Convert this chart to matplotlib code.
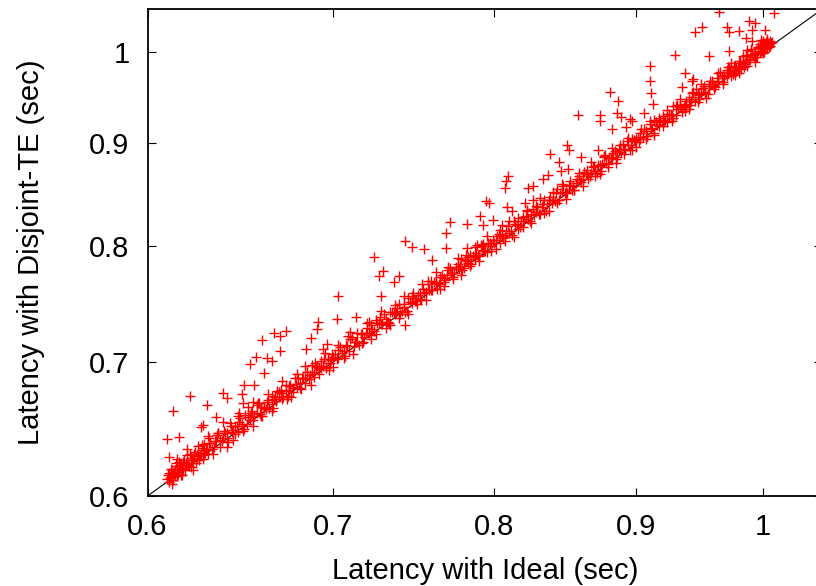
import numpy as np
import matplotlib
matplotlib.use('Agg')
import matplotlib.pyplot as plt
from matplotlib import ticker

plt.rcParams['font.family'] = ['Liberation Sans', 'DejaVu Sans']

# dense band of points along the diagonal (latency ideal vs disjoint-TE)
band_x = [
    0.610, 0.611, 0.611, 0.612, 0.612, 0.613, 0.613, 0.614, 0.614, 0.615, 0.615, 0.616, 0.616, 0.617, 0.617, 0.618,
    0.618, 0.619, 0.620, 0.620, 0.621, 0.622, 0.622, 0.623, 0.624, 0.625, 0.625, 0.626, 0.627, 0.628, 0.629, 0.629,
    0.630, 0.631, 0.632, 0.634, 0.635, 0.636, 0.637, 0.639, 0.640, 0.641, 0.643, 0.644, 0.645, 0.646, 0.648, 0.649,
    0.650, 0.652, 0.653, 0.654, 0.655, 0.657, 0.658, 0.659, 0.661, 0.662, 0.663, 0.665, 0.666, 0.667, 0.669, 0.670,
    0.671, 0.673, 0.674, 0.675, 0.677, 0.678, 0.679, 0.681, 0.682, 0.684, 0.685, 0.686, 0.688, 0.689, 0.690, 0.692,
    0.693, 0.694, 0.696, 0.697, 0.698,
    0.700, 0.702, 0.703, 0.705, 0.707, 0.708, 0.710, 0.712, 0.713, 0.715, 0.717, 0.718, 0.720, 0.722, 0.723, 0.725,
    0.727, 0.728, 0.730, 0.732, 0.733, 0.735, 0.737, 0.738, 0.740, 0.742, 0.743, 0.745, 0.747, 0.748, 0.750, 0.752,
    0.753, 0.755, 0.757, 0.758, 0.760, 0.762, 0.763, 0.765, 0.767, 0.768, 0.770, 0.772, 0.773, 0.775, 0.777, 0.778,
    0.780, 0.782, 0.783, 0.785, 0.787, 0.788, 0.790, 0.792, 0.793, 0.795, 0.797, 0.798,
    0.800, 0.802, 0.804, 0.805, 0.807, 0.809, 0.810, 0.812, 0.814, 0.815, 0.817, 0.819, 0.820, 0.822, 0.824, 0.825,
    0.827, 0.829, 0.830, 0.832, 0.834, 0.835, 0.837, 0.839, 0.840, 0.842, 0.844, 0.845, 0.847, 0.849, 0.850, 0.852,
    0.854, 0.855, 0.857, 0.859, 0.860, 0.862, 0.864, 0.865, 0.867, 0.869, 0.870, 0.872, 0.874, 0.875, 0.877, 0.879,
    0.880, 0.882, 0.884, 0.885, 0.887, 0.889, 0.890, 0.892, 0.894, 0.895, 0.897, 0.899,
    0.900, 0.902, 0.903, 0.905, 0.907, 0.908, 0.910, 0.912, 0.913, 0.915, 0.917, 0.918, 0.920, 0.922, 0.923, 0.925,
    0.927, 0.928, 0.930, 0.932, 0.933, 0.935, 0.937, 0.938, 0.940, 0.942, 0.943, 0.945, 0.947, 0.948, 0.950, 0.952,
    0.953, 0.955, 0.957, 0.958, 0.960, 0.962, 0.963, 0.965, 0.967, 0.968, 0.970, 0.972, 0.973, 0.975, 0.977, 0.978,
    0.980, 0.982, 0.983, 0.985, 0.987, 0.988, 0.990, 0.992, 0.993, 0.995, 0.997, 0.998,
    0.971, 0.974, 0.976, 0.979, 0.981, 0.984, 0.986, 0.989, 0.991, 0.994, 0.996, 0.999, 1.000, 1.001, 1.002, 1.003,
    1.004, 1.005, 1.006, 1.007, 1.003, 1.001, 0.999,
]
band_y = [
    0.612, 0.610, 0.616, 0.613, 0.619, 0.611, 0.616, 0.618, 0.614, 0.621, 0.614, 0.618, 0.624, 0.615, 0.621, 0.619,
    0.624, 0.618, 0.623, 0.629, 0.621, 0.627, 0.620, 0.625, 0.631, 0.626, 0.629, 0.625, 0.630, 0.634, 0.629, 0.637,
    0.633, 0.630, 0.638, 0.635, 0.639, 0.645, 0.635, 0.641, 0.645, 0.641, 0.650, 0.647, 0.644, 0.650, 0.656, 0.650,
    0.648, 0.657, 0.655, 0.660, 0.655, 0.660, 0.668, 0.658, 0.665, 0.663, 0.670, 0.667, 0.664, 0.672, 0.672, 0.678,
    0.671, 0.677, 0.673, 0.681, 0.679, 0.687, 0.680, 0.679, 0.687, 0.687, 0.692, 0.686, 0.692, 0.688, 0.696, 0.694,
    0.701, 0.697, 0.696, 0.702, 0.699,
    0.704, 0.702, 0.710, 0.707, 0.705, 0.713, 0.719, 0.713, 0.716, 0.714, 0.723, 0.720, 0.728, 0.722, 0.727, 0.723,
    0.732, 0.731, 0.740, 0.733, 0.732, 0.741, 0.740, 0.745, 0.740, 0.746, 0.741, 0.753, 0.749, 0.753, 0.751, 0.758,
    0.752, 0.758, 0.766, 0.760, 0.760, 0.767, 0.761, 0.772, 0.771, 0.769, 0.778, 0.775, 0.772, 0.781, 0.779, 0.788,
    0.780, 0.786, 0.790, 0.783, 0.790, 0.793, 0.791, 0.800, 0.795, 0.794, 0.803, 0.802,
    0.803, 0.809, 0.803, 0.810, 0.808, 0.818, 0.812, 0.810, 0.820, 0.819, 0.817, 0.827, 0.823, 0.833, 0.823, 0.830,
    0.829, 0.836, 0.830, 0.836, 0.843, 0.833, 0.843, 0.840, 0.843, 0.850, 0.843, 0.850, 0.857, 0.851, 0.850, 0.858,
    0.857, 0.853, 0.864, 0.863, 0.861, 0.871, 0.869, 0.864, 0.870, 0.877, 0.872, 0.878, 0.872, 0.879, 0.888, 0.879,
    0.885, 0.885, 0.892, 0.884, 0.893, 0.891, 0.899, 0.893, 0.898, 0.893, 0.904, 0.902,
    0.904, 0.901, 0.911, 0.907, 0.913, 0.908, 0.920, 0.915, 0.911, 0.922, 0.918, 0.923, 0.929, 0.924, 0.922, 0.931,
    0.930, 0.940, 0.930, 0.936, 0.941, 0.933, 0.942, 0.939, 0.947, 0.945, 0.954, 0.945, 0.953, 0.947, 0.954, 0.961,
    0.955, 0.953, 0.964, 0.963, 0.961, 0.970, 0.966, 0.977, 0.966, 0.974, 0.972, 0.982, 0.977, 0.975, 0.984, 0.981,
    0.989, 0.980, 0.988, 0.986, 0.995, 0.992, 1.001, 0.994, 0.999, 0.994, 1.000, 1.005,
    0.976, 0.973, 0.984, 0.981, 0.987, 0.982, 0.995, 0.992, 0.996, 0.994, 1.004, 1.001, 1.004, 1.000, 1.009, 1.004,
    1.009, 1.008, 1.006, 1.011, 1.012, 1.007, 1.009,
]

# second pass over the band, filling in between
band2_x = [
    0.6105, 0.6115, 0.6125, 0.6135, 0.6145, 0.6155, 0.6165, 0.6175, 0.6185, 0.6195, 0.6205, 0.6215, 0.6225, 0.6235,
    0.6245, 0.6255, 0.6265, 0.6275, 0.6285, 0.6295,
    0.6305, 0.6315, 0.6330, 0.6345, 0.6355, 0.6370, 0.6385, 0.6395, 0.6410, 0.6425, 0.6435, 0.6450, 0.6465, 0.6475,
    0.6490, 0.6505, 0.6515, 0.6530, 0.6545, 0.6555, 0.6570, 0.6585, 0.6595, 0.6610, 0.6625, 0.6635, 0.6650, 0.6665,
    0.6675, 0.6690, 0.6705, 0.6715, 0.6730, 0.6745, 0.6755, 0.6770, 0.6785, 0.6795, 0.6810, 0.6825, 0.6835, 0.6850,
    0.6865, 0.6875, 0.6890, 0.6905, 0.6915, 0.6930, 0.6945, 0.6955, 0.6970, 0.6985, 0.6995,
    0.7010, 0.7025, 0.7040, 0.7060, 0.7075, 0.7090, 0.7110, 0.7125, 0.7140, 0.7160, 0.7175, 0.7190, 0.7210, 0.7225,
    0.7240, 0.7260, 0.7275, 0.7290, 0.7310, 0.7325, 0.7340, 0.7360, 0.7375, 0.7390, 0.7410, 0.7425, 0.7440, 0.7460,
    0.7475, 0.7490, 0.7510, 0.7525, 0.7540, 0.7560, 0.7575, 0.7590, 0.7610, 0.7625, 0.7640, 0.7660, 0.7675, 0.7690,
    0.7710, 0.7725, 0.7740, 0.7760, 0.7775, 0.7790, 0.7810, 0.7825, 0.7840, 0.7860, 0.7875, 0.7890, 0.7910, 0.7925,
    0.7940, 0.7960, 0.7975, 0.7990,
    0.8010, 0.8030, 0.8060, 0.8080, 0.8110, 0.8130, 0.8160, 0.8180, 0.8210, 0.8230, 0.8260, 0.8280, 0.8310, 0.8330,
    0.8360, 0.8380, 0.8410, 0.8430, 0.8460, 0.8480, 0.8510, 0.8530, 0.8560, 0.8580, 0.8610, 0.8630, 0.8660, 0.8680,
    0.8710, 0.8730, 0.8760, 0.8780, 0.8810, 0.8830, 0.8860, 0.8880, 0.8910, 0.8930, 0.8960, 0.8980,
    0.9010, 0.9030, 0.9060, 0.9080, 0.9110, 0.9130, 0.9160, 0.9180, 0.9210, 0.9230, 0.9260, 0.9280, 0.9310, 0.9330,
    0.9360, 0.9380, 0.9410, 0.9430, 0.9460, 0.9480, 0.9510, 0.9530, 0.9560, 0.9580, 0.9610, 0.9630, 0.9660, 0.9680,
    0.9710, 0.9730, 0.9760, 0.9780, 0.9810, 0.9830, 0.9860, 0.9880, 0.9910, 0.9930, 0.9960, 0.9980,
    1.0005, 1.0015, 1.0025, 1.0035, 1.0045, 1.0055, 1.0065, 0.9975, 0.9985, 0.9995,
]
band2_y = [
    0.6145, 0.6125, 0.6185, 0.6165, 0.6235, 0.6155, 0.6215, 0.6195, 0.6255, 0.6235, 0.6215, 0.6295, 0.6255, 0.6295,
    0.6235, 0.6305, 0.6285, 0.6365, 0.6325, 0.6305,
    0.6325, 0.6375, 0.6330, 0.6395, 0.6435, 0.6400, 0.6395, 0.6465, 0.6450, 0.6525, 0.6455, 0.6500, 0.6455, 0.6535,
    0.6520, 0.6585, 0.6515, 0.6570, 0.6615, 0.6575, 0.6660, 0.6595, 0.6645, 0.6640, 0.6685, 0.6635, 0.6730, 0.6705,
    0.6695, 0.6760, 0.6755, 0.6725, 0.6820, 0.6775, 0.6815, 0.6760, 0.6825, 0.6875, 0.6830, 0.6875, 0.6835, 0.6920,
    0.6895, 0.6975, 0.6900, 0.6965, 0.6955, 0.6950, 0.7025, 0.6955, 0.7020, 0.7015, 0.7065,
    0.7060, 0.7035, 0.7120, 0.7090, 0.7135, 0.7090, 0.7200, 0.7165, 0.7160, 0.7230, 0.7165, 0.7240, 0.7240, 0.7305,
    0.7250, 0.7320, 0.7375, 0.7310, 0.7350, 0.7325, 0.7410, 0.7410, 0.7405, 0.7480, 0.7420, 0.7485, 0.7420, 0.7500,
    0.7555, 0.7510, 0.7560, 0.7525, 0.7610, 0.7590, 0.7685, 0.7600, 0.7670, 0.7665, 0.7660, 0.7740, 0.7675, 0.7740,
    0.7800, 0.7755, 0.7750, 0.7830, 0.7815, 0.7780, 0.7870, 0.7845, 0.7920, 0.7910, 0.7875, 0.7920, 0.8010, 0.7965,
    0.7950, 0.8030, 0.7995, 0.8050,
    0.8050, 0.8110, 0.8070, 0.8140, 0.8140, 0.8230, 0.8160, 0.8230, 0.8280, 0.8250, 0.8350, 0.8320, 0.8300, 0.8390,
    0.8390, 0.8460, 0.8420, 0.8540, 0.8510, 0.8500, 0.8580, 0.8530, 0.8600, 0.8670, 0.8640, 0.8690, 0.8670, 0.8760,
    0.8700, 0.8780, 0.8860, 0.8800, 0.8850, 0.8900, 0.8860, 0.8940, 0.8940, 0.9020, 0.8980, 0.9030,
    0.9070, 0.9050, 0.9150, 0.9080, 0.9160, 0.9240, 0.9190, 0.9250, 0.9220, 0.9310, 0.9300, 0.9270, 0.9410, 0.9380,
    0.9380, 0.9450, 0.9410, 0.9490, 0.9580, 0.9510, 0.9590, 0.9540, 0.9610, 0.9670, 0.9600, 0.9670, 0.9730, 0.9700,
    0.9820, 0.9790, 0.9790, 0.9780, 0.9890, 0.9880, 0.9960, 0.9900, 0.9970, 0.9970, 1.0050, 1.0010,
    1.0065, 1.0035, 1.0115, 1.0085, 1.0055, 1.0125, 1.0095, 1.0085, 1.0065, 1.0125,
]

# points along the upper and lower edge of the band
band3_x = [
    0.6125, 0.6150, 0.6175, 0.6200, 0.6230, 0.6255, 0.6280, 0.6310, 0.6335, 0.6360, 0.6390, 0.6415, 0.6440, 0.6470,
    0.6495, 0.6520, 0.6550, 0.6575, 0.6600, 0.6630, 0.6655, 0.6680, 0.6710, 0.6735, 0.6760, 0.6790, 0.6815, 0.6840,
    0.6870, 0.6895, 0.6920, 0.6950, 0.6975,
    0.7000, 0.7030, 0.7060, 0.7085, 0.7115, 0.7140, 0.7170, 0.7200, 0.7225, 0.7255, 0.7280, 0.7310, 0.7340, 0.7365,
    0.7395, 0.7420, 0.7450, 0.7480, 0.7505, 0.7535, 0.7560, 0.7590, 0.7620, 0.7645, 0.7675, 0.7700, 0.7730, 0.7760,
    0.7785, 0.7815, 0.7840, 0.7870, 0.7900, 0.7925, 0.7955, 0.7980,
    0.8010, 0.8040, 0.8070, 0.8100, 0.8130, 0.8160, 0.8190, 0.8220, 0.8250, 0.8280, 0.8310, 0.8340, 0.8370, 0.8400,
    0.8430, 0.8460, 0.8490, 0.8520, 0.8550, 0.8580, 0.8610, 0.8640, 0.8670, 0.8700, 0.8730, 0.8760, 0.8790, 0.8820,
    0.8850, 0.8880, 0.8910, 0.8940, 0.8970,
    0.9000, 0.9035, 0.9070, 0.9100, 0.9135, 0.9170, 0.9200, 0.9235, 0.9270, 0.9300, 0.9335, 0.9370, 0.9400, 0.9435,
    0.9470, 0.9500, 0.9535, 0.9570, 0.9600, 0.9635, 0.9670, 0.9700, 0.9735, 0.9770, 0.9800, 0.9835, 0.9870, 0.9900,
    0.9935, 0.9970, 1.0000, 1.0030,
]
band3_y = [
    0.6085, 0.6260, 0.6145, 0.6330, 0.6180, 0.6355, 0.6260, 0.6430, 0.6295, 0.6450, 0.6530, 0.6385, 0.6400, 0.6580,
    0.6465, 0.6650, 0.6500, 0.6675, 0.6580, 0.6750, 0.6615, 0.6770, 0.6850, 0.6705, 0.6720, 0.6900, 0.6785, 0.6970,
    0.6820, 0.6995, 0.6900, 0.7070, 0.6935,
    0.6960, 0.7140, 0.7030, 0.7215, 0.7065, 0.7240, 0.7150, 0.7320, 0.7185, 0.7345, 0.7420, 0.7280, 0.7300, 0.7475,
    0.7365, 0.7550, 0.7400, 0.7580, 0.7485, 0.7655, 0.7520, 0.7680, 0.7760, 0.7615, 0.7635, 0.7810, 0.7700, 0.7890,
    0.7735, 0.7915, 0.7820, 0.7990, 0.7860, 0.8015, 0.8095, 0.7950,
    0.7970, 0.8150, 0.8040, 0.8230, 0.8080, 0.8260, 0.8170, 0.8340, 0.8210, 0.8370, 0.8450, 0.8310, 0.8330, 0.8510,
    0.8400, 0.8590, 0.8440, 0.8620, 0.8530, 0.8700, 0.8570, 0.8730, 0.8810, 0.8670, 0.8690, 0.8870, 0.8760, 0.8950,
    0.8800, 0.8980, 0.8890, 0.9060, 0.8930,
    0.8960, 0.9145, 0.9040, 0.9230, 0.9085, 0.9270, 0.9180, 0.9355, 0.9230, 0.9390, 0.9475, 0.9340, 0.9360, 0.9545,
    0.9440, 0.9630, 0.9485, 0.9670, 0.9580, 0.9755, 0.9630, 0.9790, 0.9875, 0.9740, 0.9760, 0.9945, 0.9840, 1.0030,
    0.9885, 1.0070, 0.9980, 1.0150,
]

# scattered points above the band
out_x = [
    0.6106, 0.6098, 0.6161, 0.6128, 0.6217, 0.6270, 0.6280, 0.6301, 0.6351, 0.6390, 0.6409, 0.6471, 0.6489, 0.6495,
    0.6500, 0.6550, 0.6554, 0.6609, 0.6535, 0.6565, 0.6624, 0.6653, 0.6598, 0.6664, 0.6699, 0.6732, 0.6697, 0.6843,
    0.6870, 0.6913, 0.6906, 0.6939, 0.6964, 0.7029, 0.7023, 0.7133, 0.7100, 0.7213, 0.7243, 0.7273, 0.7297, 0.7284,
    0.7362, 0.7392, 0.7429, 0.7471, 0.7546, 0.7598, 0.7686, 0.7683, 0.7820, 0.7885, 0.7908, 0.7712, 0.7824, 0.7990,
    0.7928, 0.7948, 0.7968, 0.8094, 0.8077, 0.8069, 0.8226, 0.8258, 0.8207, 0.8082, 0.8118, 0.8264, 0.8050, 0.8496,
    0.8514, 0.8379, 0.8594, 0.8444, 0.8507, 0.8454, 0.8368, 0.8329, 0.8721, 0.8579, 0.8734, 0.8734, 0.8806, 0.8867,
    0.8856, 0.8884, 0.8954, 0.8971, 0.9058, 0.8924, 0.8819, 0.9100, 0.9106, 0.9113, 0.9125, 0.9294, 0.9562, 0.9450,
    0.9503, 0.9638, 1.0092, 0.9885, 0.9932, 0.9704, 0.9724, 0.9804, 0.9905, 1.0015, 0.9858, 0.9909, 0.9983, 0.9723,
    0.9864, 0.9372, 0.9424, 0.9345, 0.9437, 0.7429, 0.6312, 0.6409,
]
out_y = [
    0.6273, 0.6404, 0.6419, 0.6618, 0.6731, 0.6497, 0.6510, 0.6662, 0.6574, 0.6752, 0.6713, 0.6604, 0.6743, 0.6675,
    0.6817, 0.6686, 0.6817, 0.6911, 0.6982, 0.7042, 0.7034, 0.7010, 0.7181, 0.7234, 0.7214, 0.7251, 0.7091, 0.7106,
    0.7197, 0.7331, 0.7272, 0.7106, 0.7146, 0.7548, 0.7352, 0.7367, 0.7247, 0.7330, 0.7894, 0.7724, 0.7768, 0.7547,
    0.7673, 0.7727, 0.8042, 0.7986, 0.7967, 0.7867, 0.8121, 0.7976, 0.7976, 0.8007, 0.8278, 0.8224, 0.8203, 0.8243,
    0.8198, 0.8420, 0.8400, 0.8668, 0.8617, 0.8547, 0.8547, 0.8569, 0.8400, 0.8367, 0.8331, 0.8432, 0.8193, 0.8983,
    0.8931, 0.8890, 0.8860, 0.8809, 0.8735, 0.8720, 0.8683, 0.8640, 0.8931, 0.9301, 0.9293, 0.9234, 0.9544, 0.9454,
    0.9322, 0.9277, 0.9255, 0.9232, 0.9319, 0.9174, 0.9147, 0.9836, 0.9669, 0.9541, 0.9416, 0.9967, 0.9956, 1.0232,
    1.0285, 1.0464, 1.0451, 1.0361, 1.0341, 1.0285, 1.0228, 1.0237, 1.0258, 1.0252, 1.0164, 1.0120, 1.0131, 1.0004,
    1.0023, 0.9754, 0.9674, 0.9605, 0.9691, 0.7303, 0.6411, 0.6350,
]

diag = [0.6, 1.05]
ticks = [0.6, 0.7, 0.8, 0.9, 1.0]
tick_labels = ['0.6', '0.7', '0.8', '0.9', '1']

fig = plt.figure(figsize=(8.16, 5.86), dpi=100)
ax = fig.add_axes([0.1808, 0.1536, 0.8266, 0.8306])

xs = band_x + band2_x + band3_x + out_x
ys = band_y + band2_y + band3_y + out_y
ax.plot(diag, diag, color='black', lw=0.8, zorder=1)
ax.plot(xs, ys, linestyle='none', marker='+',
        color='#ff0000', markersize=7, markeredgewidth=1.0, zorder=2)

ax.set_xscale('log')
ax.set_yscale('log')
ax.set_xlim(0.6, 1.05)
ax.set_ylim(0.6, 1.05)
ax.xaxis.set_major_locator(ticker.FixedLocator(ticks))
ax.yaxis.set_major_locator(ticker.FixedLocator(ticks))
ax.xaxis.set_major_formatter(ticker.FixedFormatter(tick_labels))
ax.yaxis.set_major_formatter(ticker.FixedFormatter(tick_labels))
ax.xaxis.set_minor_locator(ticker.NullLocator())
ax.yaxis.set_minor_locator(ticker.NullLocator())

ax.tick_params(direction='in', length=6, width=0.8, top=True, right=True,
               labelsize=21)
ax.tick_params(axis='x', pad=12)
ax.tick_params(axis='y', pad=13)
for s in ax.spines.values():
    s.set_linewidth(1.3)

ax.set_xlabel('Latency with Ideal (sec)', fontsize=21, labelpad=12)
ax.set_ylabel('Latency with Disjoint-TE (sec)', fontsize=21, labelpad=32)

fig.savefig('out.png', dpi=100)
